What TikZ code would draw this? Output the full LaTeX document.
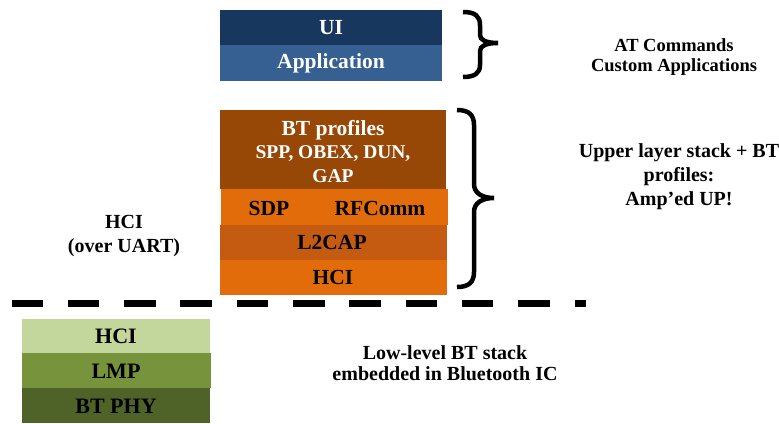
\documentclass[tikz,border=0pt]{standalone}
\usepackage{fontspec}
\setmainfont{Liberation Serif}
\definecolor{uicol}{HTML}{17375E}
\definecolor{appcol}{HTML}{366092}
\definecolor{profcol}{HTML}{974806}
\definecolor{orng}{HTML}{E36C0A}
\definecolor{dorng}{HTML}{C55A11}
\definecolor{lgreen}{HTML}{C3D69B}
\definecolor{mgreen}{HTML}{77933C}
\definecolor{dgreen}{HTML}{4F6228}
\begin{document}
\begin{tikzpicture}[x=1pt,y=-1pt,
  layer/.style={rectangle,inner sep=0pt,outer sep=0pt,draw=none,anchor=north west},
  wlayer/.style={layer,text=white},
  blayer/.style={layer,text=black},
  lab/.style={inner sep=0pt,font=\bfseries\fontsize{21.5}{23.5}\selectfont},
  side/.style={align=center,inner sep=0pt,font=\bfseries\fontsize{20}{24}\selectfont},
  bracepath/.style={line width=4.5pt,black}
]
\useasboundingbox[fill=white] (0,0) rectangle (779,423);

% top stack
\node[wlayer,fill=uicol,minimum width=222pt,minimum height=35pt] (ui) at (220,10) {};
\node[lab,text=white] (uit) at (331,28) {UI};
\node[wlayer,fill=appcol,minimum width=222pt,minimum height=36pt] (app) at (220,45) {};
\node[lab,text=white] (appt) at (331,63.5) {Application};

% middle stack
\node[wlayer,fill=profcol,minimum width=226pt,minimum height=79pt] (prof) at (220,110) {};
\node[text=white,align=center,inner sep=0pt,font=\bfseries\fontsize{19.5}{23.5}\selectfont] (proft) at (333,151.5)
  {{\fontsize{21.5}{23.5}\selectfont BT profiles}\\SPP, OBEX, DUN,\\GAP};
\node[blayer,fill=orng,minimum width=227pt,minimum height=36pt] (rfrow) at (221,189) {};
\node[lab] (sdp) at (269,208.5) {SDP};
\node[lab] (rfc) at (380,208.5) {RFComm};
\node[blayer,fill=dorng,minimum width=227pt,minimum height=34.5pt] (l2) at (220,225) {};
\node[lab] (l2t) at (332,242.5) {L2CAP};
\node[blayer,fill=orng,minimum width=227pt,minimum height=35.5pt] (hci) at (220,259.5) {};
\node[lab] (hcit) at (333,277.5) {HCI};

% lower stack
\node[blayer,fill=lgreen,minimum width=188pt,minimum height=34pt] (lhci) at (22,319) {};
\node[lab,font=\bfseries\fontsize{22}{24}\selectfont] (lhcit) at (116,336.5) {HCI};
\node[blayer,fill=mgreen,minimum width=189pt,minimum height=35pt] (lmp) at (22,353) {};
\node[lab,font=\bfseries\fontsize{22}{24}\selectfont] (lmpt) at (116,371) {LMP};
\node[blayer,fill=dgreen,minimum width=188pt,minimum height=35pt] (phy) at (22,388) {};
\node[lab,font=\bfseries\fontsize{22}{24}\selectfont] (phyt) at (116,406) {BT PHY};

% dashed separator
\coordinate (dl) at (11.5,303.5);
\coordinate (dr) at (586,303.5);
\draw[line width=7pt,dash pattern=on 31.5pt off 24.8pt] (dl) -- (dr);

% braces
\draw[bracepath] (463,12) .. controls (475,12) and (480,16) .. (480,25) -- (480,35)
  .. controls (480,40) and (486,43) .. (498,43)
  .. controls (486,43) and (480,46) .. (480,51) -- (480,65)
  .. controls (480,73) and (475,77) .. (463,77);
\draw[bracepath] (457,110) .. controls (469,110) and (474,115) .. (474,125) -- (474,184)
  .. controls (474,193) and (482,198) .. (494,198)
  .. controls (482,198) and (474,203) .. (474,212) -- (474,272)
  .. controls (474,282) and (469,287) .. (457,287);

% side labels
\node[side,font=\bfseries\fontsize{18.5}{20}\selectfont] (atc) at (674,57) {AT Commands\\Custom Applications};
\node[side] (upper) at (679,177) {Upper layer stack + BT\\profiles:\\Amp’ed UP!};
\node[side] (uart) at (124,236) {HCI\\(over UART)};
\node[side,font=\bfseries\fontsize{20}{21.5}\selectfont] (low) at (445,363) {Low-level BT stack\\embedded in Bluetooth IC};
\end{tikzpicture}
\end{document}
